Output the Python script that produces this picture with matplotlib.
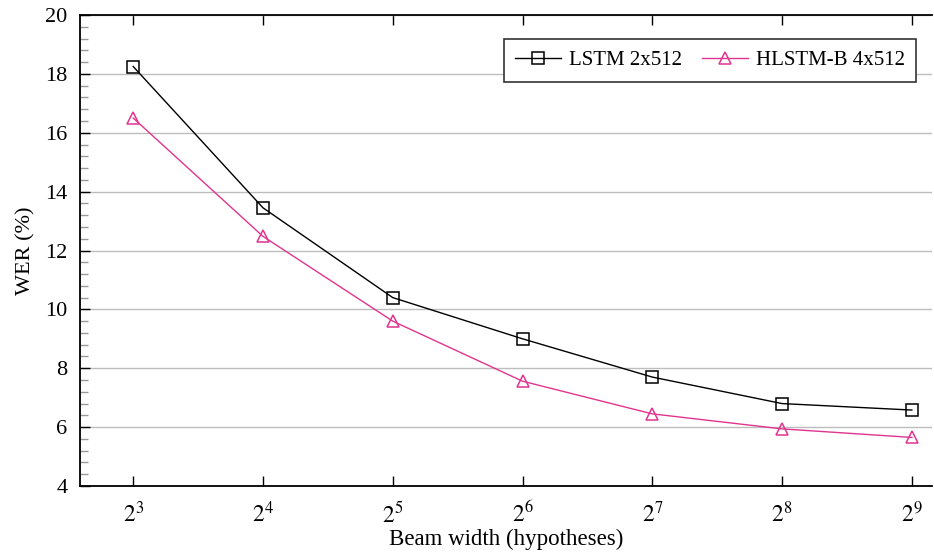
import numpy as np
import matplotlib
matplotlib.use('Agg')
import matplotlib.pyplot as plt
from matplotlib.ticker import MultipleLocator, FixedLocator, FixedFormatter

plt.rcParams['font.family'] = ['Liberation Serif', 'DejaVu Serif']
plt.rcParams['mathtext.fontset'] = 'stix'

# beam width exponents (2^k hypotheses)
exponents = [3, 4, 5, 6, 7, 8, 9]
beam = [2 ** k for k in exponents]
lstm_wer = [18.25, 13.45, 10.4, 9.0, 7.7, 6.8, 6.58]
hlstm_wer = [16.5, 12.48, 9.6, 7.56, 6.45, 5.94, 5.65]
tick_labels = [r'$2^{%d}$' % k for k in exponents]

pink = '#e0348f'

fig = plt.figure(figsize=(9.34, 5.54), dpi=100)
ax = fig.add_axes([80 / 934, 1 - 486 / 554, 852 / 934, 471 / 554])

ax.plot(beam, lstm_wer, color='black', lw=1.0, marker='s', ms=8,
        mfc='none', mec='black', mew=1.1, label='LSTM 2x512')
ax.plot(beam, hlstm_wer, color=pink, lw=1.0, marker='^', ms=9,
        mfc='none', mec=pink, mew=1.1, label='HLSTM-B 4x512')

ax.set_xscale('log', base=2)
ax.set_xlim(2 ** 2.59, 2 ** 9.155)
ax.set_ylim(4, 20)
ax.xaxis.set_major_locator(FixedLocator(beam))
ax.xaxis.set_major_formatter(FixedFormatter(tick_labels))
ax.xaxis.set_minor_locator(FixedLocator([]))
ax.yaxis.set_major_locator(MultipleLocator(2))
ax.yaxis.set_minor_locator(MultipleLocator(0.4))

ax.grid(True, axis='y', which='major', color='#bdbdbd', lw=1.0)
ax.set_axisbelow(True)

ax.tick_params(axis='x', which='major', direction='in', labelsize=17,
               length=7, width=1.0, top=True, pad=11)
ax.tick_params(axis='y', which='major', direction='in', labelsize=16,
               length=7, width=1.0, right=False, pad=9)
ax.tick_params(axis='y', which='minor', direction='in', length=6,
               width=1.0, color='#999999', right=False)
ax.spines['right'].set_visible(False)
for s in ax.spines.values():
    s.set_linewidth(1.3)

ax.set_xlabel('Beam width (hypotheses)', fontsize=16.5, labelpad=1)
ax.set_ylabel('WER (%)', fontsize=16, labelpad=7)

leg = ax.legend(loc='upper right', ncol=2, fontsize=15, frameon=True,
                fancybox=False, edgecolor='#333333', framealpha=1,
                borderaxespad=0, borderpad=0.55, handlelength=2.2,
                handletextpad=0.35, columnspacing=1.0,
                bbox_to_anchor=(916 / 934, 1 - 39 / 554),
                bbox_transform=fig.transFigure)
leg.get_frame().set_linewidth(1.2)

fig.savefig('out.png', dpi=100)
